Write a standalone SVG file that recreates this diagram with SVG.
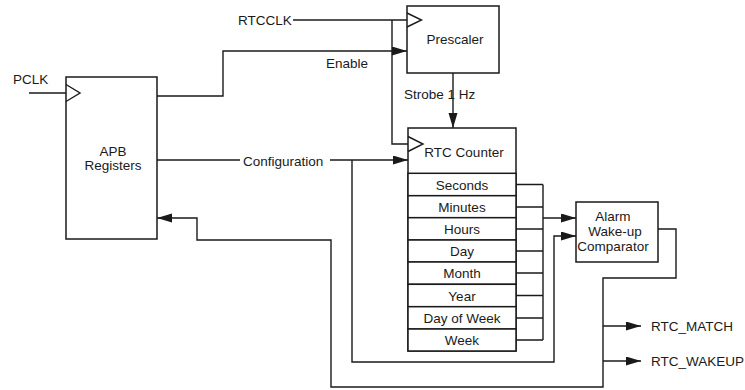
<svg xmlns="http://www.w3.org/2000/svg" width="745" height="390" viewBox="0 0 745 390">
<defs>
<style>
text{font-family:"Liberation Sans",Arial,sans-serif;font-size:13.5px;fill:#1a1a1a}
.c{text-anchor:middle}
.box{fill:#fff;stroke:#1a1a1a;stroke-width:1.5}
.ln{fill:none;stroke:#1a1a1a;stroke-width:1.4}
.arr{marker-end:url(#ah)}
</style>
<marker id="ah" markerUnits="userSpaceOnUse" markerWidth="15" markerHeight="10" refX="15" refY="4.5" orient="auto">
<path d="M0,0 L15,4.5 L0,9 z" fill="#1a1a1a"/>
</marker>
</defs>
<rect width="745" height="390" fill="#fff"/>
<g id="connectors">
<path class="ln" d="M29,93 H66"/>
<path class="ln" d="M293,20 H407"/>
<path class="ln" d="M392,20 V144 H408"/>
<path class="ln arr" d="M157,96 H223 V51 H407"/>
<path class="ln arr" d="M453,73 V128"/>
<path class="ln" d="M157,160 H240"/>
<path class="ln arr" d="M330,160 H408"/>
<path class="ln arr" d="M352,160 V362 H554 V236 H576"/>
<path class="ln" d="M516,184.5 H543 M516,207 H543 M516,229 H543 M516,251 H543 M516,273 H543 M516,295.5 H543 M516,318 H543 M516,340 H543 M543,184.5 V340"/>
<path class="ln arr" d="M543,218 H576"/>
<path class="ln arr" d="M658,229 H676 V278 H603 V387 H331 V240 H197 V218 H157"/>
<path class="ln arr" d="M603,326 H641"/>
<path class="ln arr" d="M603,361 H641"/>
</g>
<g id="apb">
<rect class="box" x="66" y="77" width="91" height="162"/>
<path class="ln" d="M66,84.5 L80,93 L66,101.5"/>
<text class="c" x="113" y="156">APB</text>
<text class="c" x="113" y="170">Registers</text>
</g>
<g id="prescaler">
<rect class="box" x="407" y="6" width="92" height="67"/>
<path class="ln" d="M407,13 L421.5,20 L407,27"/>
<text class="c" x="455" y="44">Prescaler</text>
</g>
<g id="rtc-counter">
<rect class="box" x="408" y="128" width="108" height="223"/>
<path class="ln" d="M408,136.5 L423,144 L408,151.5"/>
<text class="c" x="464" y="157">RTC Counter</text>
<rect class="box" x="408" y="173.3" width="108" height="22.4"/>
<rect class="box" x="408" y="195.7" width="108" height="22"/>
<rect class="box" x="408" y="217.7" width="108" height="22.3"/>
<rect class="box" x="408" y="240" width="108" height="22"/>
<rect class="box" x="408" y="262" width="108" height="22.3"/>
<rect class="box" x="408" y="284.3" width="108" height="22.4"/>
<rect class="box" x="408" y="306.7" width="108" height="22.3"/>
<rect class="box" x="408" y="329" width="108" height="22"/>
<text class="c" x="462" y="189.5">Seconds</text>
<text class="c" x="462" y="211.7">Minutes</text>
<text class="c" x="462" y="233.8">Hours</text>
<text class="c" x="462" y="256">Day</text>
<text class="c" x="462" y="278">Month</text>
<text class="c" x="462" y="300.5">Year</text>
<text class="c" x="462" y="322.8">Day of Week</text>
<text class="c" x="462" y="345">Week</text>
</g>
<g id="comparator">
<rect class="box" x="576" y="202" width="82" height="60"/>
<text class="c" x="613" y="221">Alarm</text>
<text class="c" x="615" y="236">Wake-up</text>
<text class="c" x="613" y="251">Comparator</text>
</g>
<g id="labels">
<text x="13" y="84">PCLK</text>
<text x="238" y="25">RTCCLK</text>
<text x="326" y="68">Enable</text>
<text x="404" y="99">Strobe 1 Hz</text>
<text x="243" y="166">Configuration</text>
<text x="651" y="331">RTC_MATCH</text>
<text x="651" y="366">RTC_WAKEUP</text>
</g>
</svg>
